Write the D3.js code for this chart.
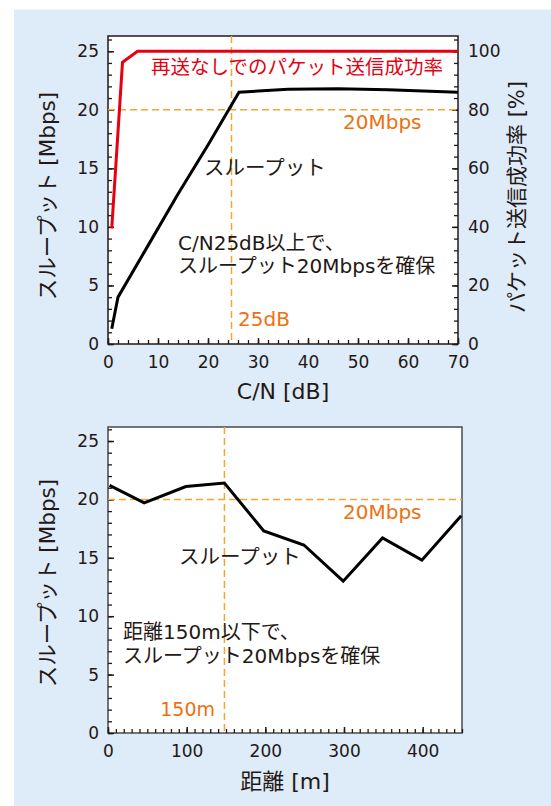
<!DOCTYPE html>
<html>
<head>
<meta charset="utf-8">
<script src="https://cdn.jsdelivr.net/npm/d3@7"></script>
<style>
body { margin: 0; background: #fff; }
text { font-family: "DejaVu Sans", "Noto Sans CJK JP", sans-serif; fill: #231815; }
</style>
</head>
<body>
<div id="chart"></div>
<script>
var width = 551,
    height = 806;

// upper chart: C/N [dB] vs throughput / packet success rate
var cnX = [0.75, 2, 8, 14, 20, 26.2, 36, 46, 56, 70];
var cnThroughput = [1.3, 4.0, 8.4, 12.8, 17.0, 21.5, 21.75, 21.8, 21.7, 21.5];
var cnRateX = [0.75, 2.9, 5.9, 70];
var cnRate = [39.5, 96.2, 100, 100];
var cnTicks = [0, 10, 20, 30, 40, 50, 60, 70];
var mbpsTicks = [0, 5, 10, 15, 20, 25];
var rateTicks = [0, 20, 40, 60, 80, 100];

// lower chart: distance [m] vs throughput
var distX = [2, 46, 99, 148, 198, 249, 299, 349, 399, 449];
var distThroughput = [21.2, 19.7, 21.1, 21.4, 17.3, 16.1, 13.0, 16.7, 14.8, 18.6];
var distTicks = [0, 100, 200, 300, 400];

var red = '#e60012',
    orange = '#ee7010',
    dash = '#f3a530';

var svg = d3.select('#chart').append('svg')
    .attr('width', width)
    .attr('height', height);

svg.append('rect')
    .attr('x', 14).attr('y', 9.5)
    .attr('width', width - 14).attr('height', height - 9.5)
    .attr('fill', '#deebf8');

// ---------- upper chart ----------
var x1 = d3.scaleLinear().domain([0, 70]).range([108, 458]);
var y1 = d3.scaleLinear().domain([0, 26.3]).range([344, 36]);
var r1 = d3.scaleLinear().domain([0, 105.2]).range([344, 36]);

var upper = svg.append('g');
frame(upper, x1, y1, true);

minor(upper, d3.axisBottom(x1).tickValues(d3.range(0, 71, 2)), 'translate(0,344)');
major(upper, d3.axisBottom(x1).tickValues(cnTicks).tickPadding(12), 'translate(0,344)');
minor(upper, d3.axisLeft(y1).tickValues(d3.range(0, 27, 1)), 'translate(108,0)');
major(upper, d3.axisLeft(y1).tickValues(mbpsTicks).tickPadding(9), 'translate(108,0)');
minor(upper, d3.axisRight(r1).tickValues(d3.range(0, 105, 4)), 'translate(458,0)');
major(upper, d3.axisRight(r1).tickValues(rateTicks).tickPadding(10), 'translate(458,0)');

guide(upper, x1(24.7), 36, x1(24.7), 344);
guide(upper, 108, y1(20), 458, y1(20));

upper.append('path')
    .datum(d3.zip(cnRateX, cnRate))
    .attr('fill', 'none').attr('stroke', red).attr('stroke-width', 3)
    .attr('d', d3.line().x(function(d) { return x1(d[0]); }).y(function(d) { return r1(d[1]); }));
upper.append('path')
    .datum(d3.zip(cnX, cnThroughput))
    .attr('fill', 'none').attr('stroke', '#000').attr('stroke-width', 3)
    .attr('d', d3.line().x(function(d) { return x1(d[0]); }).y(function(d) { return y1(d[1]); }));

label(upper, '再送なしでのパケット送信成功率', 443, 74, 19.5, red, 'end');
label(upper, '20Mbps', 343, 129, 20, orange);
label(upper, 'スループット', 204, 175, 20.5);
label(upper, 'C/N25dB以上で、', 178, 250, 20);
label(upper, 'スループット20Mbpsを確保', 178, 273, 20);
label(upper, '25dB', 238, 326, 20, orange);
label(upper, 'C/N [dB]', 283, 399, 22, null, 'middle');
vlabel(upper, 'スループット [Mbps]', 47, 196, 21.5);
vlabel(upper, 'パケット送信成功率 [%]', 517, 197, 21);

// ---------- lower chart ----------
var x2 = d3.scaleLinear().domain([0, 450]).range([108, 462]);
var y2 = d3.scaleLinear().domain([0, 26.2]).range([733, 427]);

var lower = svg.append('g');
frame(lower, x2, y2, false);

minor(lower, d3.axisBottom(x2).tickValues(d3.range(0, 451, 10)), 'translate(0,733)');
major(lower, d3.axisBottom(x2).tickValues(distTicks).tickPadding(12), 'translate(0,733)');
minor(lower, d3.axisLeft(y2).tickValues(d3.range(0, 27, 1)), 'translate(108,0)');
major(lower, d3.axisLeft(y2).tickValues(mbpsTicks).tickPadding(9), 'translate(108,0)');

guide(lower, x2(148), 427, x2(148), 733);
guide(lower, 108, y2(20), 462, y2(20));

lower.append('path')
    .datum(d3.zip(distX, distThroughput))
    .attr('fill', 'none').attr('stroke', '#000').attr('stroke-width', 3)
    .attr('d', d3.line().x(function(d) { return x2(d[0]); }).y(function(d) { return y2(d[1]); }));

label(lower, '20Mbps', 343, 519, 20, orange);
label(lower, 'スループット', 179, 564, 20.5);
label(lower, '距離150m以下で、', 123, 639, 20);
label(lower, 'スループット20Mbpsを確保', 123, 663, 20);
label(lower, '150m', 215, 716, 19, orange, 'end');
label(lower, '距離 [m]', 285, 789, 22, null, 'middle');
vlabel(lower, 'スループット [Mbps]', 47, 583, 21.5);


function frame(g, x, y, dark) {
    var r = x.range(), h = y.range();
    g.append('rect')
        .attr('x', r[0]).attr('y', h[1])
        .attr('width', r[1] - r[0]).attr('height', h[0] - h[1])
        .attr('fill', '#fff')
        .attr('stroke', dark ? '#231815' : '#4a4a4a')
        .attr('stroke-width', 1.5);
}

function minor(g, axis, tr) {
    var a = g.append('g').attr('transform', tr)
        .call(axis.tickSize(-4).tickFormat(''));
    a.select('.domain').remove();
    a.selectAll('line').attr('stroke', '#231815').attr('stroke-width', 1.3);
}

function major(g, axis, tr) {
    var a = g.append('g').attr('transform', tr)
        .call(axis.tickSize(-6));
    a.select('.domain').remove();
    a.selectAll('line').attr('stroke', '#231815').attr('stroke-width', 1.5);
    a.selectAll('text')
        .attr('font-size', 17)
        .style('font-family', '"DejaVu Sans", sans-serif')
        .attr('fill', '#231815');
}

function guide(g, xa, ya, xb, yb) {
    g.append('line')
        .attr('x1', xa).attr('y1', ya).attr('x2', xb).attr('y2', yb)
        .attr('stroke', dash).attr('stroke-width', 1.5)
        .attr('stroke-dasharray', '7,4');
}

function label(g, s, x, y, size, color, anchor) {
    g.append('text')
        .attr('x', x).attr('y', y)
        .attr('font-size', size)
        .attr('text-anchor', anchor || 'start')
        .style('fill', color || '#231815')
        .text(s);
}

function vlabel(g, s, x, y, size) {
    g.append('text')
        .attr('transform', 'translate(' + x + ',' + y + ') rotate(-90)')
        .attr('dy', '0.35em')
        .attr('font-size', size)
        .attr('text-anchor', 'middle')
        .text(s);
}
</script>
</body>
</html>
